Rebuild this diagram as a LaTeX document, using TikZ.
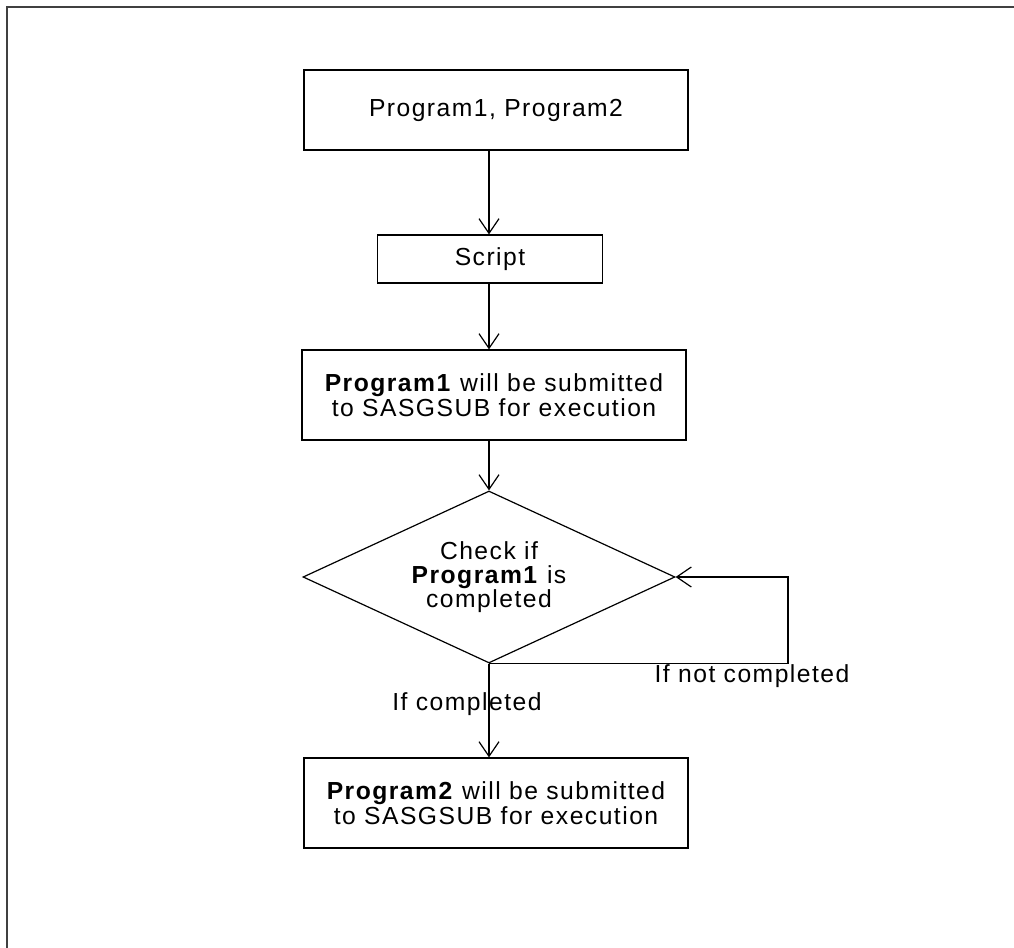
\documentclass[tikz,border=0pt]{standalone}
\usepackage{fontspec}
\setmainfont{Liberation Sans}[LetterSpace=6.0]
\usetikzlibrary{shapes.geometric,arrows.meta}

\tikzset{
	flowbox/.style={draw, line width=0.9pt, align=center, inner sep=0pt, font=\fontsize{18.5}{18.8}\selectfont},
	decision/.style={draw, diamond, shape aspect=2.16, line width=0.9pt, align=center, inner sep=0pt, minimum width=279pt, minimum height=129pt, font=\fontsize{18.5}{17.8}\selectfont},
	arr/.style={line width=0.9pt, -{Straight Barb[length=11pt,width=15pt,line width=0.9pt]}},
	lbl/.style={inner sep=0pt, font=\fontsize{18.5}{18}\selectfont},
}

\begin{document}
\begin{tikzpicture}[x=0.75pt,y=0.75pt,yscale=-1,xscale=1]
	\useasboundingbox (0,0) rectangle (1014,948);
	\draw [line width=1.6pt, color=black!75] (7,948) -- (7,7) -- (1014,7);
	\node [flowbox, minimum width=288pt, minimum height=60pt] (progs) at (496,110) {Program1, Program2};
	\node [flowbox, minimum width=168.75pt, minimum height=36pt] (script) at (490,259) {Script};
	\node [flowbox, minimum width=288pt, minimum height=67.5pt] (sub1) at (494,395) {\textbf{Program1} will be submitted\\to SASGSUB for execution};
	\node [decision] (check) at (489,577) {Check if\\\textbf{Program1} is\\completed};
	\node [flowbox, minimum width=288pt, minimum height=67.5pt] (sub2) at (496,803) {\textbf{Program2} will be submitted\\to SASGSUB for execution};
	\coordinate (loop) at (788,662);
	\draw [arr] (progs.south -| check) -- (script.north -| check);
	\draw [arr] (script.south -| check) -- (sub1.north -| check);
	\draw [arr] (sub1.south -| check) -- (check.north);
	\draw [arr] (check.south) -- (check.south -| loop) |- (check.east);
	\draw [arr] (check.south) -- (sub2.north -| check);
	\node [lbl] (notdone) at (752,676) {If not completed};
	\node [lbl] (done) at (467,704) {If completed};
\end{tikzpicture}
\end{document}
